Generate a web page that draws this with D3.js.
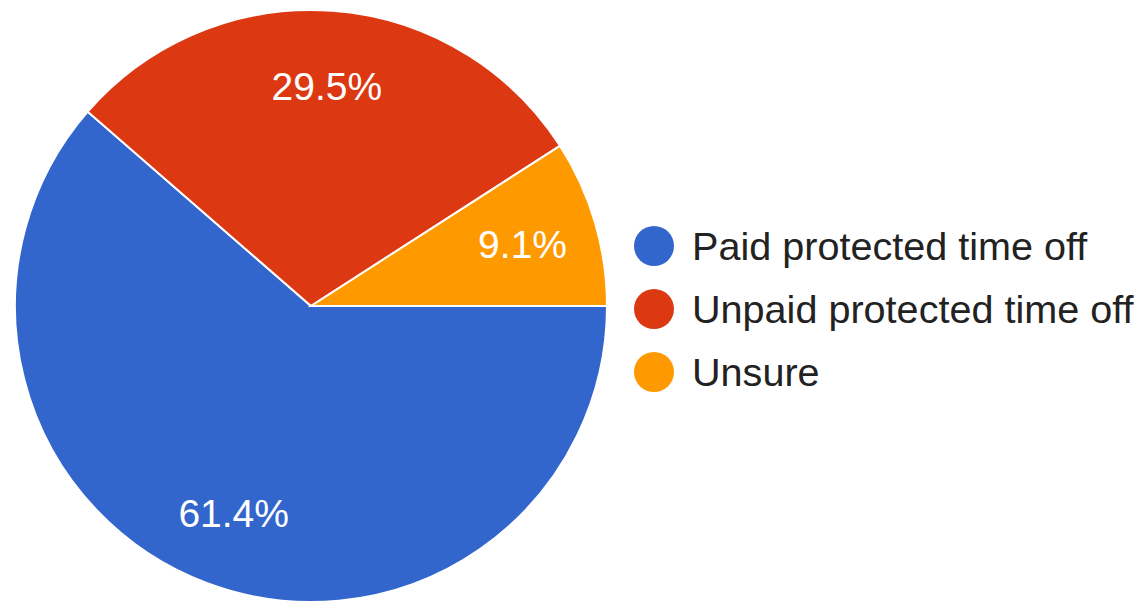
<!DOCTYPE html>
<html>
<head>
<meta charset="utf-8">
<script src="https://d3js.org/d3.v7.min.js"></script>
<style>
 html, body { margin: 0; padding: 0; background: #fff; }
 svg { display: block; }
</style>
</head>
<body>
<div id="chart"></div>
<script>
// answer categories, shares (percent) and slice colours
var categories = ['Paid protected time off', 'Unpaid protected time off', 'Unsure'];
var shares = [61.4, 29.5, 9.1];
var colors = ['#3366cc', '#dc3912', '#ff9900'];

var width = 1144, height = 602;
var cx = 311, cy = 306, radius = 296;
var fontFamily = 'Arial, "Liberation Sans", sans-serif';

var svg = d3.select('#chart').append('svg')
 .attr('width', width)
 .attr('height', height);

var rows = categories.map(function(c, i) { return {name: c, value: shares[i], color: colors[i]}; });

// slices start at 3 o'clock and go clockwise, as in the source chart
var pie = d3.pie()
 .value(function(d) { return d.value; })
 .sort(null)
 .startAngle(Math.PI / 2)
 .endAngle(Math.PI / 2 + 2 * Math.PI);

var arc = d3.arc().innerRadius(0).outerRadius(radius);
var labelArc = d3.arc().innerRadius(radius * 0.745).outerRadius(radius * 0.745);

var pieLayer = svg.append('g').attr('transform', 'translate(' + cx + ',' + cy + ')');
var arcs = pie(rows);

pieLayer.selectAll('path')
 .data(arcs)
 .enter().append('path')
 .attr('d', arc)
 .attr('fill', function(d) { return d.data.color; })
 .attr('stroke', '#ffffff')
 .attr('stroke-width', 2);

pieLayer.selectAll('text')
 .data(arcs)
 .enter().append('text')
 .attr('transform', function(d) { return 'translate(' + labelArc.centroid(d) + ')'; })
 .attr('text-anchor', 'middle')
 .attr('dy', '0.36em')
 .style('font-family', fontFamily)
 .style('font-size', '39px')
 .style('fill', '#ffffff')
 .text(function(d) { return d.data.value.toFixed(1) + '%'; });

// legend on the right
var legendX = 654, legendY = 246, legendStep = 63;
var legend = svg.append('g');
var items = legend.selectAll('g')
 .data(rows)
 .enter().append('g')
 .attr('transform', function(d, i) { return 'translate(' + legendX + ',' + (legendY + i * legendStep) + ')'; });

items.append('circle')
 .attr('r', 20)
 .attr('fill', function(d) { return d.color; });

items.append('text')
 .attr('x', 38)
 .attr('dy', '0.36em')
 .style('font-family', fontFamily)
 .style('font-size', '39.6px')
 .style('fill', '#222222')
 .text(function(d) { return d.name; });
</script>
</body>
</html>
